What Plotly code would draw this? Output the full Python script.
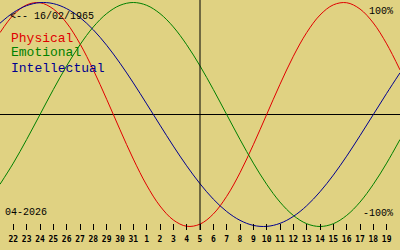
import plotly.graph_objects as go

# Days shown (one sample per day, 21 Mar .. 20 Apr 2026)
dates = ["2026-03-21", "2026-03-22", "2026-03-23", "2026-03-24", "2026-03-25", "2026-03-26",
         "2026-03-27", "2026-03-28", "2026-03-29", "2026-03-30", "2026-03-31", "2026-04-01",
         "2026-04-02", "2026-04-03", "2026-04-04", "2026-04-05", "2026-04-06", "2026-04-07",
         "2026-04-08", "2026-04-09", "2026-04-10", "2026-04-11", "2026-04-12", "2026-04-13",
         "2026-04-14", "2026-04-15", "2026-04-16", "2026-04-17", "2026-04-18", "2026-04-19",
         "2026-04-20"]
physical = [0.731, 0.888, 0.979, 0.998, 0.942, 0.817, 0.631, 0.398, 0.136, -0.136, -0.398,
            -0.631, -0.817, -0.942, -0.998, -0.979, -0.888, -0.731, -0.520, -0.270, 0.0,
            0.270, 0.520, 0.731, 0.888, 0.979, 0.998, 0.942, 0.817, 0.631, 0.398]
emotional = [-0.623, -0.434, -0.223, 0.0, 0.223, 0.434, 0.623, 0.782, 0.901, 0.975, 1.0,
             0.975, 0.901, 0.782, 0.623, 0.434, 0.223, 0.0, -0.223, -0.434, -0.623, -0.782,
             -0.901, -0.975, -1.0, -0.975, -0.901, -0.782, -0.623, -0.434, -0.223]
intellectual = [0.815, 0.910, 0.972, 0.999, 0.990, 0.945, 0.866, 0.756, 0.618, 0.458, 0.282,
                0.095, -0.095, -0.282, -0.458, -0.618, -0.756, -0.866, -0.945, -0.990, -0.999,
                -0.972, -0.910, -0.815, -0.690, -0.541, -0.372, -0.189, 0.0, 0.189, 0.372]
tick_dates = dates[1:-1]
tick_labels = ["22", "23", "24", "25", "26", "27", "28", "29", "30", "31", "1", "2", "3", "4",
               "5", "6", "7", "8", "9", "10", "11", "12", "13", "14", "15", "16", "17", "18", "19"]
today = "2026-04-05"
birth_label = "<-- 16/02/1965"
month_label = "04-2026"
series_names = ["Physical", "Emotional", "Intellectual"]
series_colors = ["#e00000", "#008000", "#000090"]

BG = "#e0d282"
W, H = 400, 250

def py(px):
    return 1 - px / H

def pxx(px):
    return px / W

fig = go.Figure()
for name, vals, col in zip(series_names, [physical, emotional, intellectual], series_colors):
    fig.add_trace(go.Scatter(x=dates, y=vals, mode="lines", name=name,
                             line=dict(color=col, width=1, shape="spline", smoothing=1),
                             hoverinfo="skip"))

axis_pos = 1 - 230 / H
fig.add_shape(type="line", xref="x", yref="paper", x0=today, x1=today, y0=axis_pos, y1=1,
              line=dict(color="black", width=1))

mono = "Liberation Mono"
ann = []
ann.append(dict(text=birth_label, x=pxx(8), y=py(16.5), font=dict(size=10, color="black", family=mono)))
for i, (name, col) in enumerate(zip(series_names, series_colors)):
    ann.append(dict(text=name, x=pxx(9), y=py(38 + 15 * i), font=dict(size=13, color=col, family=mono)))
ann.append(dict(text=month_label, x=pxx(3), y=py(212.5), font=dict(size=10, color="black", family=mono)))
for a in ann:
    a.update(xref="paper", yref="paper", xanchor="left", yanchor="middle", showarrow=False)
fig.add_annotation(text="100%", xref="paper", yref="paper", x=pxx(395), y=py(11.5),
                   xanchor="right", yanchor="middle", showarrow=False,
                   font=dict(size=10, color="black", family=mono))
fig.add_annotation(text="-100%", xref="paper", yref="paper", x=pxx(395), y=py(213),
                   xanchor="right", yanchor="middle", showarrow=False,
                   font=dict(size=10, color="black", family=mono))
for a in ann:
    fig.add_annotation(**a)

fig.update_layout(
    width=W, height=H, margin=dict(l=0, r=0, t=0, b=0),
    paper_bgcolor=BG, plot_bgcolor=BG, showlegend=False,
    xaxis=dict(type="date", range=["2026-03-21", "2026-04-20"], tickvals=tick_dates,
               ticktext=tick_labels, ticks="inside", ticklen=6, tickwidth=1, tickcolor="black",
               showgrid=False, zeroline=False, showline=False, anchor="free", position=axis_pos,
               tickfont=dict(size=8, color="black", family="DejaVu Sans Mono", weight="bold"),
               ticklabelstandoff=3, fixedrange=True),
    yaxis=dict(range=[-(H - 114.5) / 112, 114.5 / 112], showgrid=False, showticklabels=False,
               ticks="", zeroline=True, zerolinecolor="black", zerolinewidth=1, showline=False,
               fixedrange=True),
)
fig.write_html("out.html")
